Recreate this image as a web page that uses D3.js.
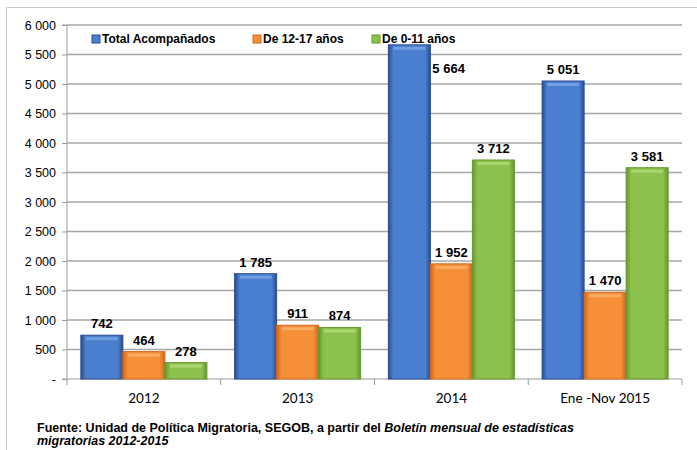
<!DOCTYPE html>
<html>
<head>
<meta charset="utf-8">
<script src="https://cdn.jsdelivr.net/npm/d3@7"></script>
<style>
body { margin: 0; background: #fff; }
svg { display: block; }
</style>
</head>
<body>
<svg id="chart" width="697" height="450"></svg>
<script>
var categories = ['2012', '2013', '2014', 'Ene -Nov 2015'];
var seriesNames = ['Total Acompañados', 'De 12-17 años', 'De 0-11 años'];
var totalAcompanados = [742, 1785, 5664, 5051];
var de12a17 = [464, 911, 1952, 1470];
var de0a11 = [278, 874, 3712, 3581];
var yTicks = [0, 500, 1000, 1500, 2000, 2500, 3000, 3500, 4000, 4500, 5000, 5500, 6000];

var seriesValues = [totalAcompanados, de12a17, de0a11];
var colors = [
    { edge: '#2a4c92', mid: '#4a7fcf', light: '#79a5e4' },
    { edge: '#d4661a', mid: '#f58f38', light: '#fbb36a' },
    { edge: '#67972f', mid: '#8bc14c', light: '#b4db79' }
];

var svg = d3.select('#chart');
var plotLeft = 67, plotRight = 682, plotTop = 25, plotBottom = 379;

var x0 = d3.scaleBand().domain(categories).range([plotLeft, plotRight]).paddingInner(0).paddingOuter(0);
var x1 = d3.scaleBand().domain(d3.range(3)).range([0, x0.bandwidth()]).paddingInner(0).paddingOuter(0.33);
var y = d3.scaleLinear().domain([0, 6000]).range([plotBottom, plotTop]);

function fmt(v) {
    return d3.format(',')(v).replace(/,/g, ' ');
}

// outer frame (only top and left visible)
svg.append('path')
    .attr('d', 'M6.5,450 L6.5,7.5 L697,7.5')
    .attr('fill', 'none')
    .attr('stroke', '#c8c8c8')
    .attr('stroke-width', 1);

// gradients
var defs = svg.append('defs');
colors.forEach(function(c, i) {
    var g = defs.append('linearGradient').attr('id', 'g' + i)
        .attr('x1', '0').attr('x2', '1').attr('y1', '0').attr('y2', '0');
    g.append('stop').attr('offset', '0%').attr('stop-color', c.edge);
    g.append('stop').attr('offset', '12%').attr('stop-color', c.mid);
    g.append('stop').attr('offset', '50%').attr('stop-color', c.mid);
    g.append('stop').attr('offset', '88%').attr('stop-color', c.mid);
    g.append('stop').attr('offset', '100%').attr('stop-color', c.edge);
});

// gridlines
svg.append('g').selectAll('line')
    .data(yTicks.filter(function(d) { return d > 0; }))
    .join('line')
    .attr('x1', plotLeft).attr('x2', plotRight)
    .attr('y1', function(d) { return y(d); })
    .attr('y2', function(d) { return y(d); })
    .attr('stroke', '#a6a6a6')
    .attr('stroke-width', 1.5);

// y axis
var yAxis = d3.axisLeft(y)
    .tickValues(yTicks)
    .tickSize(5)
    .tickPadding(6)
    .tickFormat(function(d) { return d === 0 ? '-' : fmt(d); });

var yg = svg.append('g')
    .attr('transform', 'translate(' + plotLeft + ',0)')
    .call(yAxis);
yg.select('.domain').attr('stroke', '#9a9a9a').attr('d', 'M-5,' + plotTop + 'H0V' + plotBottom + 'H-5');
yg.selectAll('.tick line').attr('stroke', '#9a9a9a');
yg.selectAll('text')
    .attr('font-family', '"Liberation Sans", Arial, sans-serif')
    .attr('font-size', 12.5)
    .attr('fill', '#000');

// x axis
var xAxis = d3.axisBottom(x0).tickSize(0).tickPadding(14);
var xg = svg.append('g')
    .attr('transform', 'translate(0,' + plotBottom + ')')
    .call(xAxis);
xg.select('.domain').attr('stroke', '#9a9a9a').attr('d', 'M' + plotLeft + ',0H' + plotRight);
xg.selectAll('text')
    .attr('font-family', 'Lato, "Open Sans", sans-serif')
    .attr('font-size', 13.5)
    .attr('fill', '#000');
xg.selectAll('line.sep')
    .data(d3.range(categories.length + 1))
    .join('line')
    .attr('class', 'sep')
    .attr('x1', function(i) { return plotLeft + i * x0.step(); })
    .attr('x2', function(i) { return plotLeft + i * x0.step(); })
    .attr('y1', 0).attr('y2', 6)
    .attr('stroke', '#9a9a9a');

// bars
var barData = [];
categories.forEach(function(cat, ci) {
    seriesValues.forEach(function(vals, si) {
        barData.push({ cat: cat, s: si, value: vals[ci] });
    });
});

var bars = svg.append('g');
bars.selectAll('rect')
    .data(barData)
    .join('rect')
    .attr('x', function(d) { return x0(d.cat) + x1(d.s); })
    .attr('y', function(d) { return y(d.value); })
    .attr('width', x1.bandwidth())
    .attr('height', function(d) { return plotBottom - y(d.value); })
    .attr('fill', function(d) { return 'url(#g' + d.s + ')'; })
    .attr('stroke', function(d) { return colors[d.s].edge; })
    .attr('stroke-width', 1);

// highlight strip on top of bars
bars.selectAll('rect.hl')
    .data(barData)
    .join('rect')
    .attr('class', 'hl')
    .attr('x', function(d) { return x0(d.cat) + x1(d.s) + 5; })
    .attr('y', function(d) { return y(d.value) + 2; })
    .attr('width', x1.bandwidth() - 10)
    .attr('height', 3)
    .attr('fill', function(d) { return colors[d.s].light; })
    .attr('opacity', 0.8);

// value labels
svg.append('g').selectAll('text')
    .data(barData)
    .join('text')
    .attr('x', function(d) {
        var bx = x0(d.cat) + x1(d.s);
        return d.value > 5400 ? bx + x1.bandwidth() + 2 : bx + x1.bandwidth() / 2;
    })
    .attr('y', function(d) { return d.value > 5400 ? y(d.value) + 28 : y(d.value) - 7; })
    .attr('text-anchor', function(d) { return d.value > 5400 ? 'start' : 'middle'; })
    .attr('font-family', '"Liberation Sans", Arial, sans-serif')
    .attr('font-weight', 'bold')
    .attr('font-size', 13)
    .attr('fill', '#000')
    .text(function(d) { return fmt(d.value); });

// legend
var legendX = [92, 253, 372];
var lg = svg.append('g').selectAll('g')
    .data(seriesNames)
    .join('g')
    .attr('transform', function(d, i) { return 'translate(' + legendX[i] + ',34)'; });
lg.append('rect')
    .attr('width', 8).attr('height', 8).attr('y', 1)
    .attr('fill', function(d, i) { return colors[i].mid; })
    .attr('stroke', function(d, i) { return colors[i].edge; });
lg.append('text')
    .attr('x', 10).attr('y', 9)
    .attr('font-family', '"Liberation Sans", Arial, sans-serif')
    .attr('font-weight', 'bold')
    .attr('font-size', 12)
    .attr('fill', '#000')
    .text(function(d) { return d; });

// source note
var note = svg.append('text')
    .attr('x', 37).attr('y', 432)
    .attr('font-family', '"Liberation Sans", Arial, sans-serif')
    .attr('font-weight', 'bold')
    .attr('font-size', 12.5)
    .attr('fill', '#000');
note.append('tspan').text('Fuente: Unidad de Política Migratoria, SEGOB, a partir del ');
note.append('tspan').attr('font-style', 'italic').text('Boletín mensual de estadísticas');
svg.append('text')
    .attr('x', 37).attr('y', 445)
    .attr('font-family', '"Liberation Sans", Arial, sans-serif')
    .attr('font-weight', 'bold')
    .attr('font-style', 'italic')
    .attr('font-size', 12.5)
    .attr('fill', '#000')
    .text('migratorias 2012-2015');
</script>
</body>
</html>
